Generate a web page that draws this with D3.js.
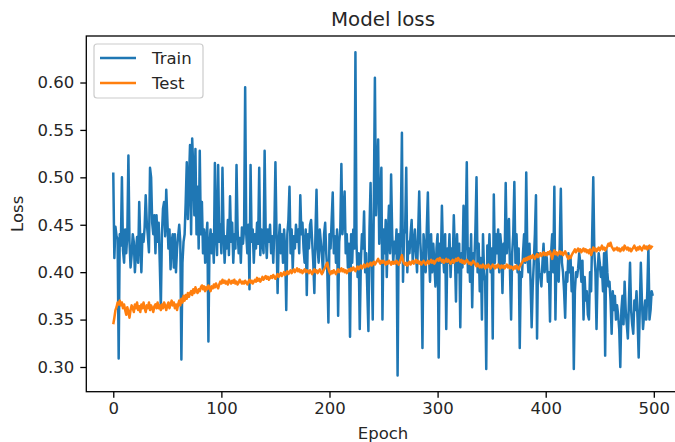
<!DOCTYPE html>
<meta charset="utf-8">
<style>
  body { margin: 0; background: #fff; }
  svg text { font-family: "DejaVu Sans", sans-serif; fill: #262626; }
</style>
<svg width="675" height="442"></svg>
<script src="https://cdn.jsdelivr.net/npm/d3@7"></script>
<script>

// loss per epoch
var train = [
  0.505, 0.415, 0.448, 0.438, 0.435, 0.309, 0.440, 0.428, 0.500, 0.423,
  0.410, 0.445, 0.420, 0.440, 0.523, 0.432, 0.405, 0.418, 0.440, 0.432,
  0.400, 0.421, 0.437, 0.410, 0.474, 0.432, 0.400, 0.440, 0.432, 0.447,
  0.481, 0.452, 0.438, 0.421, 0.510, 0.500, 0.452, 0.440, 0.460, 0.420,
  0.460, 0.432, 0.452, 0.410, 0.363, 0.440, 0.467, 0.474, 0.438, 0.487,
  0.456, 0.425, 0.445, 0.403, 0.432, 0.440, 0.405, 0.440, 0.400, 0.425,
  0.438, 0.450, 0.432, 0.308, 0.410, 0.432, 0.440, 0.474, 0.516, 0.456,
  0.495, 0.534, 0.440, 0.541, 0.509, 0.460, 0.530, 0.440, 0.490, 0.425,
  0.528, 0.440, 0.474, 0.420, 0.445, 0.410, 0.435, 0.452, 0.327, 0.430,
  0.445, 0.420, 0.440, 0.410, 0.515, 0.440, 0.418, 0.513, 0.432, 0.450,
  0.420, 0.510, 0.445, 0.410, 0.438, 0.425, 0.455, 0.418, 0.480, 0.432,
  0.452, 0.410, 0.440, 0.425, 0.513, 0.445, 0.420, 0.436, 0.410, 0.447,
  0.430, 0.445, 0.595, 0.440, 0.420, 0.450, 0.382, 0.513, 0.432, 0.445,
  0.410, 0.440, 0.425, 0.452, 0.430, 0.510, 0.418, 0.445, 0.432, 0.420,
  0.528, 0.440, 0.415, 0.445, 0.432, 0.450, 0.420, 0.438, 0.410, 0.445,
  0.516, 0.440, 0.378, 0.432, 0.450, 0.420, 0.440, 0.410, 0.445, 0.425,
  0.360, 0.440, 0.455, 0.490, 0.420, 0.445, 0.403, 0.438, 0.425, 0.450,
  0.432, 0.445, 0.420, 0.481, 0.440, 0.452, 0.425, 0.410, 0.445, 0.376,
  0.440, 0.425, 0.450, 0.455, 0.432, 0.410, 0.378, 0.440, 0.487, 0.425,
  0.410, 0.445, 0.432, 0.418, 0.400, 0.440, 0.452, 0.420, 0.400, 0.347,
  0.440, 0.425, 0.455, 0.484, 0.420, 0.438, 0.410, 0.445, 0.354, 0.432,
  0.445, 0.514, 0.440, 0.460, 0.485, 0.420, 0.440, 0.405, 0.430, 0.332,
  0.440, 0.410, 0.445, 0.425, 0.632, 0.430, 0.395, 0.420, 0.340, 0.410,
  0.440, 0.425, 0.464, 0.400, 0.420, 0.380, 0.338, 0.445, 0.494, 0.410,
  0.350, 0.470, 0.605, 0.460, 0.500, 0.540, 0.430, 0.475, 0.510, 0.350,
  0.445, 0.420, 0.455, 0.395, 0.440, 0.470, 0.420, 0.503, 0.440, 0.410,
  0.432, 0.420, 0.445, 0.291, 0.440, 0.410, 0.450, 0.547, 0.390, 0.440,
  0.445, 0.510, 0.400, 0.432, 0.420, 0.440, 0.455, 0.410, 0.430, 0.445,
  0.420, 0.400, 0.440, 0.485, 0.432, 0.410, 0.320, 0.440, 0.425, 0.400,
  0.445, 0.484, 0.420, 0.390, 0.440, 0.400, 0.430, 0.410, 0.385, 0.425,
  0.440, 0.310, 0.430, 0.410, 0.470, 0.420, 0.400, 0.440, 0.340, 0.425,
  0.410, 0.440, 0.395, 0.425, 0.410, 0.460, 0.420, 0.369, 0.440, 0.400,
  0.430, 0.342, 0.420, 0.405, 0.470, 0.410, 0.440, 0.516, 0.400, 0.425,
  0.390, 0.440, 0.363, 0.420, 0.410, 0.445, 0.500, 0.400, 0.430, 0.380,
  0.415, 0.350, 0.440, 0.400, 0.390, 0.298, 0.428, 0.410, 0.440, 0.400,
  0.425, 0.330, 0.482, 0.410, 0.440, 0.420, 0.445, 0.400, 0.440, 0.425,
  0.378, 0.430, 0.410, 0.494, 0.420, 0.445, 0.456, 0.400, 0.350, 0.420,
  0.440, 0.495, 0.410, 0.440, 0.400, 0.425, 0.320, 0.400, 0.395, 0.420,
  0.440, 0.410, 0.505, 0.420, 0.400, 0.430, 0.390, 0.342, 0.385, 0.410,
  0.440, 0.481, 0.330, 0.420, 0.400, 0.395, 0.385, 0.410, 0.430, 0.400,
  0.420, 0.415, 0.390, 0.400, 0.348, 0.420, 0.440, 0.400, 0.490, 0.350,
  0.420, 0.400, 0.390, 0.430, 0.488, 0.410, 0.400, 0.380, 0.352, 0.400,
  0.390, 0.420, 0.400, 0.415, 0.380, 0.405, 0.298, 0.380, 0.400, 0.395,
  0.404, 0.420, 0.410, 0.390, 0.412, 0.350, 0.395, 0.370, 0.380, 0.355,
  0.350, 0.400, 0.380, 0.440, 0.500, 0.420, 0.400, 0.340, 0.400, 0.420,
  0.410, 0.395, 0.405, 0.380, 0.420, 0.312, 0.425, 0.400, 0.385, 0.390,
  0.370, 0.335, 0.380, 0.360, 0.375, 0.350, 0.365, 0.355, 0.340, 0.300,
  0.360, 0.375, 0.345, 0.390, 0.360, 0.345, 0.330, 0.370, 0.410, 0.360,
  0.345, 0.335, 0.370, 0.360, 0.380, 0.350, 0.310, 0.360, 0.410, 0.370,
  0.340, 0.355, 0.370, 0.350, 0.380, 0.427, 0.350, 0.360, 0.380, 0.375
];

var test = [
  0.345, 0.352, 0.360, 0.363, 0.368, 0.366, 0.370, 0.365, 0.368, 0.362,
  0.366, 0.360, 0.355, 0.363, 0.358, 0.352, 0.360, 0.365, 0.362, 0.358,
  0.366, 0.362, 0.368, 0.360, 0.364, 0.358, 0.366, 0.362, 0.368, 0.362,
  0.358, 0.365, 0.362, 0.368, 0.360, 0.365, 0.362, 0.358, 0.364, 0.366,
  0.362, 0.368, 0.362, 0.365, 0.360, 0.366, 0.362, 0.368, 0.365, 0.360,
  0.365, 0.368, 0.362, 0.366, 0.370, 0.365, 0.368, 0.362, 0.366, 0.360,
  0.366, 0.370, 0.365, 0.372, 0.368, 0.375, 0.370, 0.376, 0.372, 0.378,
  0.374, 0.378, 0.380, 0.376, 0.382, 0.378, 0.384, 0.380, 0.378, 0.382,
  0.380, 0.384, 0.386, 0.382, 0.385, 0.380, 0.384, 0.382, 0.386, 0.384,
  0.380, 0.385, 0.383, 0.387, 0.384, 0.388, 0.385, 0.383, 0.387, 0.390,
  0.388, 0.392, 0.389, 0.391, 0.388, 0.390, 0.387, 0.392, 0.390, 0.388,
  0.391, 0.389, 0.392, 0.388, 0.390, 0.387, 0.389, 0.392, 0.390, 0.388,
  0.390, 0.388, 0.391, 0.389, 0.387, 0.390, 0.392, 0.389, 0.391, 0.388,
  0.390, 0.392, 0.390, 0.394, 0.391, 0.393, 0.390, 0.392, 0.395, 0.392,
  0.394, 0.396, 0.393, 0.395, 0.392, 0.394, 0.396, 0.394, 0.397, 0.395,
  0.393, 0.396, 0.398, 0.395, 0.397, 0.399, 0.396, 0.398, 0.400, 0.397,
  0.399, 0.401, 0.398, 0.400, 0.402, 0.399, 0.401, 0.403, 0.400, 0.402,
  0.404, 0.401, 0.403, 0.400, 0.402, 0.399, 0.401, 0.403, 0.400, 0.402,
  0.401, 0.399, 0.402, 0.400, 0.398, 0.401, 0.403, 0.400, 0.402, 0.399,
  0.401, 0.403, 0.400, 0.398, 0.401, 0.403, 0.405, 0.408, 0.410, 0.404,
  0.400, 0.398, 0.401, 0.399, 0.402, 0.400, 0.398, 0.401, 0.403, 0.400,
  0.402, 0.404, 0.401, 0.403, 0.400, 0.402, 0.399, 0.401, 0.403, 0.401,
  0.404, 0.402, 0.405, 0.403, 0.401, 0.404, 0.406, 0.403, 0.405, 0.407,
  0.404, 0.406, 0.408, 0.405, 0.407, 0.409, 0.406, 0.408, 0.410, 0.407,
  0.409, 0.411, 0.408, 0.410, 0.412, 0.414, 0.411, 0.409, 0.412, 0.410,
  0.412, 0.410, 0.408, 0.411, 0.409, 0.412, 0.410, 0.408, 0.411, 0.409,
  0.411, 0.409, 0.412, 0.410, 0.408, 0.411, 0.414, 0.418, 0.412, 0.409,
  0.408, 0.410, 0.407, 0.409, 0.411, 0.408, 0.410, 0.412, 0.409, 0.411,
  0.413, 0.410, 0.412, 0.409, 0.411, 0.408, 0.410, 0.412, 0.410, 0.408,
  0.410, 0.412, 0.409, 0.411, 0.413, 0.410, 0.412, 0.409, 0.411, 0.413,
  0.414, 0.412, 0.415, 0.413, 0.411, 0.413, 0.410, 0.412, 0.414, 0.411,
  0.413, 0.411, 0.409, 0.411, 0.413, 0.410, 0.412, 0.414, 0.412, 0.415,
  0.413, 0.411, 0.413, 0.410, 0.412, 0.409, 0.411, 0.413, 0.411, 0.409,
  0.410, 0.408, 0.410, 0.412, 0.410, 0.408, 0.406, 0.409, 0.407, 0.405,
  0.407, 0.405, 0.408, 0.406, 0.404, 0.407, 0.405, 0.408, 0.406, 0.404,
  0.406, 0.408, 0.406, 0.404, 0.407, 0.405, 0.408, 0.406, 0.404, 0.407,
  0.405, 0.407, 0.404, 0.406, 0.408, 0.405, 0.407, 0.404, 0.406, 0.405,
  0.403, 0.406, 0.404, 0.407, 0.405, 0.403, 0.406, 0.408, 0.410, 0.412,
  0.414, 0.412, 0.415, 0.413, 0.416, 0.414, 0.417, 0.415, 0.418, 0.416,
  0.414, 0.417, 0.419, 0.416, 0.418, 0.420, 0.417, 0.419, 0.421, 0.418,
  0.420, 0.418, 0.421, 0.419, 0.422, 0.418, 0.414, 0.420, 0.423, 0.419,
  0.421, 0.418, 0.420, 0.422, 0.419, 0.421, 0.418, 0.420, 0.422, 0.419,
  0.416, 0.414, 0.417, 0.415, 0.418, 0.420, 0.422, 0.424, 0.421, 0.423,
  0.425, 0.422, 0.424, 0.421, 0.423, 0.425, 0.422, 0.424, 0.421, 0.423,
  0.420, 0.424, 0.418, 0.422, 0.426, 0.423, 0.425, 0.422, 0.424, 0.426,
  0.423, 0.425, 0.428, 0.424, 0.426, 0.423, 0.425, 0.427, 0.430, 0.428,
  0.431, 0.427, 0.425, 0.423, 0.425, 0.424, 0.426, 0.423, 0.425, 0.422,
  0.424, 0.426, 0.423, 0.428, 0.426, 0.424, 0.426, 0.423, 0.425, 0.422,
  0.424, 0.426, 0.428, 0.425, 0.423, 0.426, 0.424, 0.427, 0.425, 0.423,
  0.426, 0.428, 0.425, 0.427, 0.424, 0.426, 0.428, 0.425, 0.427, 0.426
];

var xTicks = [0, 100, 200, 300, 400, 500];
var yTicks = [0.30, 0.35, 0.40, 0.45, 0.50, 0.55, 0.60];
var seriesNames = ["Train", "Test"];

var svg = d3.select("svg");
var plotLeft = 86.3, plotRight = 679.7, plotTop = 36, plotBottom = 391.7;
var fs = 16.5;

// matplotlib style: 5% margin round the data
function pad(ext) {
  var m = (ext[1] - ext[0]) * 0.05;
  return [ext[0] - m, ext[1] + m];
}

var x = d3.scaleLinear()
    .domain(pad([0, train.length - 1]))
    .range([plotLeft, plotRight]);

var y = d3.scaleLinear()
    .domain(pad(d3.extent(train.concat(test))))
    .range([plotBottom, plotTop]);

var line = d3.line()
    .x(function(d, i) { return x(i); })
    .y(function(d) { return y(d); });

var colors = ["#1f77b4", "#ff7f0e"];

[train, test].forEach(function(s, k) {
  svg.append("path")
      .datum(s)
      .attr("d", line)
      .attr("fill", "none")
      .attr("stroke", colors[k])
      .attr("stroke-width", 2.5)
      .attr("stroke-linejoin", "round");
});

// axes
var gx = svg.append("g")
    .attr("transform", "translate(0," + plotBottom + ")")
    .call(d3.axisBottom(x).tickValues(xTicks).tickSize(6).tickPadding(5).tickFormat(d3.format("d")));
var gy = svg.append("g")
    .attr("transform", "translate(" + plotLeft + ",0)")
    .call(d3.axisLeft(y).tickValues(yTicks).tickSize(6).tickPadding(6).tickFormat(d3.format(".2f")));

[gx, gy].forEach(function(g) {
  g.select(".domain").remove();
  g.selectAll(".tick line").attr("stroke", "#000").attr("stroke-width", 1.3);
  g.selectAll(".tick text")
      .attr("font-size", fs)
      .attr("font-family", "DejaVu Sans")
      .style("fill", "#262626");
});

// spines
svg.append("rect")
    .attr("x", plotLeft).attr("y", plotTop)
    .attr("width", plotRight - plotLeft).attr("height", plotBottom - plotTop)
    .attr("fill", "none")
    .attr("stroke", "#000")
    .attr("stroke-width", 1.3);

// labels
svg.append("text")
    .attr("x", (plotLeft + plotRight) / 2).attr("y", 26)
    .attr("text-anchor", "middle")
    .attr("font-size", 19.8)
    .text("Model loss");

svg.append("text")
    .attr("x", (plotLeft + plotRight) / 2).attr("y", 439)
    .attr("text-anchor", "middle")
    .attr("font-size", fs)
    .text("Epoch");

svg.append("text")
    .attr("transform", "translate(23," + (plotTop + plotBottom) / 2 + ") rotate(-90)")
    .attr("text-anchor", "middle")
    .attr("font-size", fs)
    .text("Loss");

// legend
var lg = svg.append("g");
lg.append("rect")
    .attr("x", 94).attr("y", 44)
    .attr("width", 109).attr("height", 54)
    .attr("rx", 3)
    .attr("fill", "#fff").attr("fill-opacity", 0.8)
    .attr("stroke", "#cccccc").attr("stroke-width", 1.2);

seriesNames.forEach(function(name, k) {
  var ly = 58 + k * 25;
  lg.append("line")
      .attr("x1", 100).attr("x2", 136)
      .attr("y1", ly).attr("y2", ly)
      .attr("stroke", colors[k])
      .attr("stroke-width", 2.5);
  lg.append("text")
      .attr("x", 152).attr("y", ly + 6)
      .attr("font-size", fs)
      .text(name);
});

</script>
